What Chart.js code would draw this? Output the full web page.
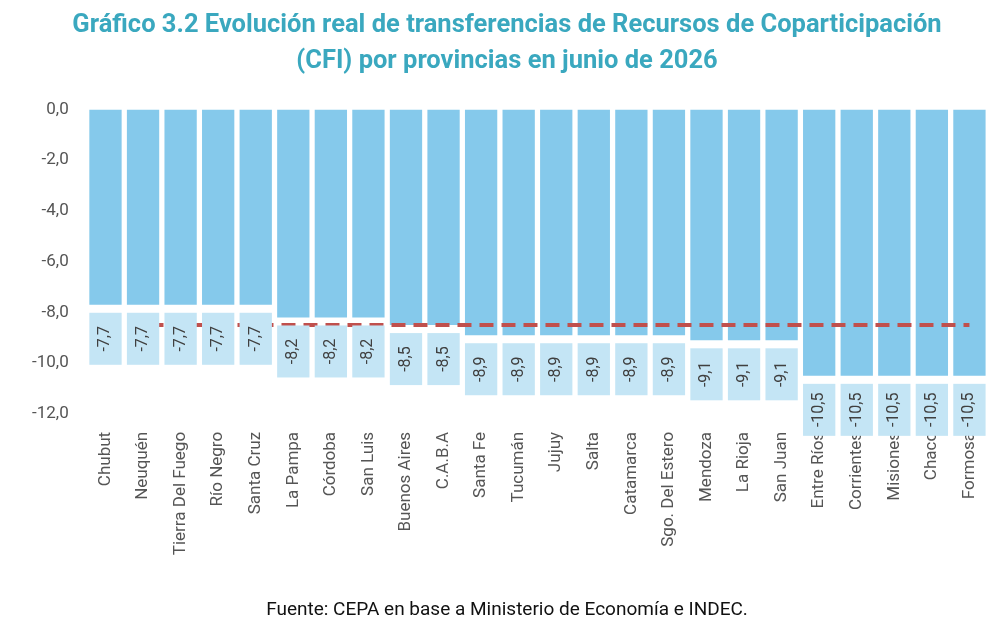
<!DOCTYPE html>
<html>
<head>
<meta charset="utf-8">
<script src="https://cdn.jsdelivr.net/npm/chart.js@4"></script>
<style>
  body { margin: 0; background: #fff; }
  #wrap { width: 1000px; height: 634px; }
</style>
</head>
<body>
<div id="wrap"><canvas id="barChart"></canvas></div>
<script>
const provincias = ["Chubut", "Neuquén", "Tierra Del Fuego", "Río Negro", "Santa Cruz", "La Pampa", "Córdoba", "San Luis", "Buenos Aires", "C.A.B.A", "Santa Fe", "Tucumán", "Jujuy", "Salta", "Catamarca", "Sgo. Del Estero", "Mendoza", "La Rioja", "San Juan", "Entre Ríos", "Corrientes", "Misiones", "Chaco", "Formosa"];
const variacion = [-7.7, -7.7, -7.7, -7.7, -7.7, -8.2, -8.2, -8.2, -8.5, -8.5, -8.9, -8.9, -8.9, -8.9, -8.9, -8.9, -9.1, -9.1, -9.1, -10.5, -10.5, -10.5, -10.5, -10.5];
const promedio = provincias.map(() => -8.5);
const yTicks = [0, -2, -4, -6, -8, -10, -12];

const fmt = v => v.toFixed(1).replace(".", ",");

const barLabels = {
  id: "barLabels",
  afterDatasetsDraw(chart) {
    const ctx = chart.ctx;
    const meta = chart.getDatasetMeta(1);
    meta.data.forEach((bar, i) => {
      ctx.save();
      const w = bar.width;
      const top = bar.y + 8;
      const h = 52;
      ctx.fillStyle = "#c4e5f5";
      ctx.fillRect(bar.x - w / 2, top, w, h);
      ctx.translate(bar.x, top + h / 2);
      ctx.rotate(-Math.PI / 2);
      ctx.fillStyle = "#404040";
      ctx.font = "16px Roboto";
      ctx.textAlign = "center";
      ctx.textBaseline = "middle";
      ctx.fillText(fmt(variacion[i]), 0, 0);
      ctx.restore();
    });
  }
};

new Chart(document.getElementById("barChart"), {
  type: "bar",
  data: {
    labels: provincias,
    datasets: [{
      type: "line",
      data: promedio,
      borderColor: "#c0504d",
      borderWidth: 4,
      borderDash: [14, 8],
      pointRadius: 0,
      order: 0
    }, {
      data: variacion,
      backgroundColor: "#85c9eb",
      categoryPercentage: 1,
      barPercentage: 0.86,
      order: 1
    }]
  },
  options: {
    responsive: true,
    maintainAspectRatio: false,
    animation: false,
    layout: { padding: { left: 22, right: 8, top: 0, bottom: 6 } },
    plugins: {
      legend: { display: false },
      tooltip: { enabled: false },
      title: {
        display: true,
        text: ["Gráfico 3.2 Evolución real de transferencias de Recursos de Coparticipación", "(CFI) por provincias en junio de 2026"],
        color: "#3aa8bf",
        font: { family: "Roboto", size: 25.5, weight: "bold", lineHeight: 1.4 },
        padding: { top: 8, bottom: 30 }
      },
      subtitle: {
        display: true,
        position: "bottom",
        text: "Fuente: CEPA en base a Ministerio de Economía e INDEC.",
        color: "#111",
        font: { family: "Roboto", size: 19 },
        padding: { top: 34, bottom: 6 }
      }
    },
    scales: {
      x: {
        grid: { display: false },
        border: { display: false },
        ticks: {
          color: "#555",
          font: { family: "Roboto", size: 17 },
          minRotation: 90,
          maxRotation: 90,
          autoSkip: false,
          padding: 10
        }
      },
      y: {
        min: -12,
        max: 0,
        grid: { display: false },
        border: { display: false },
        afterBuildTicks: axis => { axis.ticks = yTicks.map(v => ({ value: v })); },
        ticks: {
          color: "#555",
          font: { family: "Roboto", size: 17 },
          padding: 10,
          callback: v => fmt(v)
        }
      }
    }
  },
  plugins: [barLabels]
});
</script>
</body>
</html>
